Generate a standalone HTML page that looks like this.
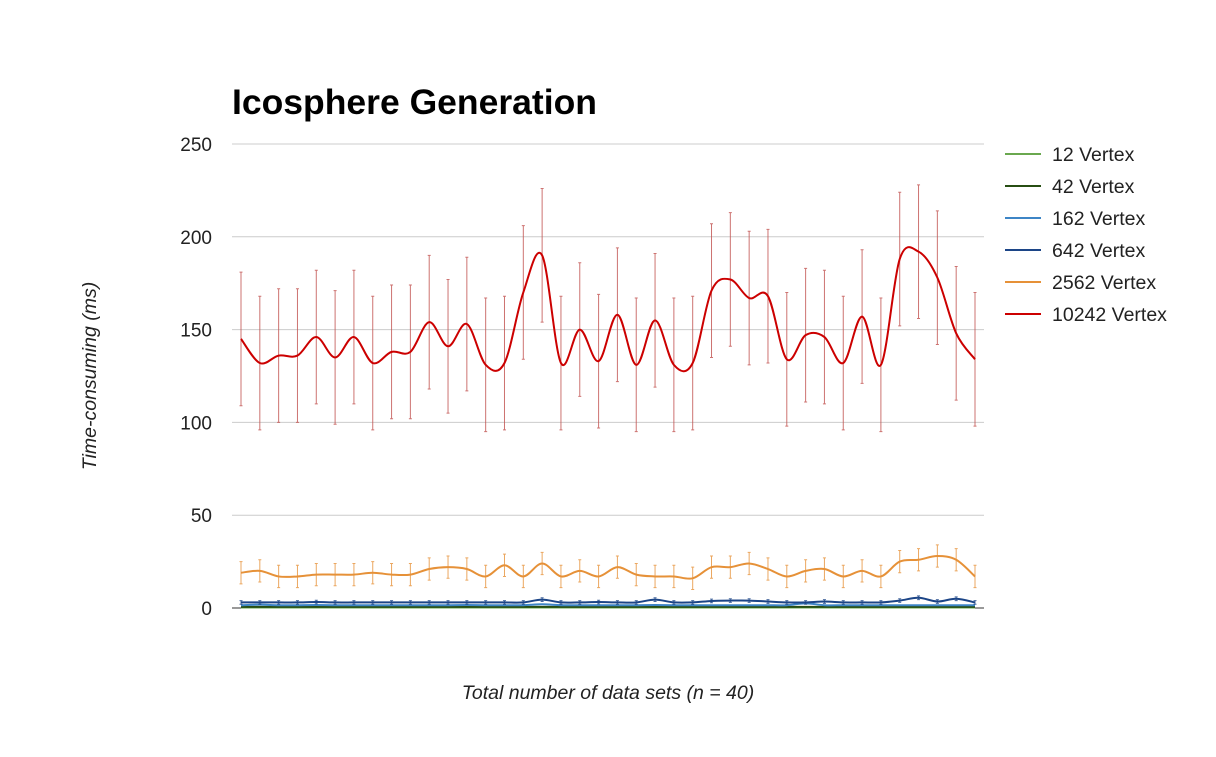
<!DOCTYPE html>
<html><head><meta charset="utf-8"><style>
body{margin:0;background:#fff;font-family:"Liberation Sans",Arial,sans-serif}
svg text{font-family:"Liberation Sans",Arial,sans-serif}
</style></head><body>
<svg id="c" width="1216" height="752">
<text x="232" y="114" font-size="35.5" font-weight="bold" fill="#000">Icosphere Generation</text>
<text transform="translate(96,376) rotate(-90)" text-anchor="middle" font-size="19.5" font-style="italic" fill="#222">Time-consuming (ms)</text>
<text x="608" y="699" text-anchor="middle" font-size="19.5" font-style="italic" fill="#222">Total number of data sets (n = 40)</text>
<g id="grid"></g><g id="marks"></g><g id="legend"></g>
</svg>
<script>
const yTicks=[0,50,100,150,200,250];
const seriesNames=["12 Vertex","42 Vertex","162 Vertex","642 Vertex","2562 Vertex","10242 Vertex"];
const colors=["#6aa84f","#274e13","#3d85c6","#1c4587","#e69138","#cc0000"];
const s12=[0.3,0.3,0.3,0.3,0.3,0.3,0.3,0.3,0.3,0.3,0.3,0.3,0.3,0.3,0.3,0.3,0.3,0.3,0.3,0.3,0.3,0.3,0.3,0.3,0.3,0.3,0.3,0.3,0.3,0.3,0.3,0.3,0.3,0.3,0.3,0.3,0.3,0.3,0.3,0.3];
const s42=[0.6,0.6,0.6,0.6,0.6,0.6,0.6,0.6,0.6,0.6,0.6,0.6,0.6,0.6,0.6,0.6,0.6,0.6,0.6,0.6,0.6,0.6,0.6,0.6,0.6,0.6,0.6,0.6,0.6,0.6,0.6,0.6,0.6,0.6,0.6,0.6,0.6,0.6,0.6,0.6];
const s162=[1.5,1.8,1.5,1.5,1.6,1.5,1.5,1.5,1.5,1.5,1.5,1.5,1.6,1.5,1.5,1.5,2,1.5,1.5,1.5,1.5,1.5,1.6,1.5,1.5,1.5,1.5,1.5,1.5,1.5,2.5,1.5,1.5,1.5,1.5,1.5,1.5,1.5,1.5,1.5];
const s642=[3,3,3,3,3.2,3,3,3,3,3,3,3,3,3,3,3,4.5,3,3,3.2,3,3,4.5,3,3,3.8,4,4,3.5,3,3,3.5,3,3,3,4,5.5,3.5,5,3];
const s2562=[19,20,17,17,18,18,18,19,18,18,21,22,21,17,23,17,24,17,20,17,22,18,17,17,16,22,22,24,21,17,20,21,17,20,17,25,26,28,26,17];
const s10242=[145,132,136,136,146,135,146,132,138,138,154,141,153,131,132,170,190,132,150,133,158,131,155,131,132,171,177,167,168,134,147,146,132,157,131,188,192,178,148,134];
const e2562=[6,6,6,6,6,6,6,6,6,6,6,6,6,6,6,6,6,6,6,6,6,6,6,6,6,6,6,6,6,6,6,6,6,6,6,6,6,6,6,6];
const e642=[1,1,1,1,1,1,1,1,1,1,1,1,1,1,1,1,1,1,1,1,1,1,1,1,1,1,1,1,1,1,1,1,1,1,1,1,1,1,1,1];
const e10242=[36,36,36,36,36,36,36,36,36,36,36,36,36,36,36,36,36,36,36,36,36,36,36,36,36,36,36,36,36,36,36,36,36,36,36,36,36,36,36,36];
const allSeries=[s12,s42,s162,s642,s2562,s10242];
const allErr=[null,null,null,e642,e2562,e10242];
const NS="http://www.w3.org/2000/svg";
const X0=241,X1=975,Y0=608,Y1=144,YMAX=250;
const xs=i=>X0+i*(X1-X0)/(s10242.length-1);
const ys=v=>Y0-v*(Y0-Y1)/YMAX;
function mk(t,a,p){const e=document.createElementNS(NS,t);for(const k in a)e.setAttribute(k,a[k]);p.appendChild(e);return e;}
const grid=document.getElementById('grid');
yTicks.forEach(t=>{
 const l=mk('line',{x1:232,x2:984,y1:ys(t),y2:ys(t),stroke:t===0?'#333':'#ccc','stroke-width':1},grid);
 
 
 const tx=mk('text',{x:212,y:ys(t)+7,'text-anchor':'end','font-size':19,fill:'#222'},grid);
 tx.textContent=t;
 
 
});
const marks=document.getElementById('marks');
function smooth(pts){let d='M'+pts[0][0]+','+pts[0][1];
 for(let i=0;i<pts.length-1;i++){const p0=pts[i-1]||pts[i],p1=pts[i],p2=pts[i+1],p3=pts[i+2]||p2;
 const c1=[p1[0]+(p2[0]-p0[0])/6,p1[1]+(p2[1]-p0[1])/6],c2=[p2[0]-(p3[0]-p1[0])/6,p2[1]-(p3[1]-p1[1])/6];
 d+=`C${c1[0]},${c1[1]} ${c2[0]},${c2[1]} ${p2[0]},${p2[1]}`;}return d;}
allSeries.forEach((s,k)=>{
 const g=mk('g',{},marks);
 
 
 const err=allErr[k];
 const ec=k===5?'#c0504d':k===4?'#e69138':'#1c4587';
 if(err) s.forEach((v,i)=>{
  const x=xs(i),a=ys(v+err[i]),b=ys(Math.max(0,v-err[i]));
  const el=mk('path',{d:`M${x},${a}V${b}M${x-1.5},${a}H${x+1.5}M${x-1.5},${b}H${x+1.5}`,stroke:ec,'stroke-width':1,fill:'none',opacity:0.8},g);
  
  
 });
 const p=mk('path',{d:smooth(s.map((v,i)=>[xs(i),ys(v)])),stroke:colors[k],'stroke-width':2,fill:'none'},g);
 
 
});
const lg=document.getElementById('legend');
seriesNames.forEach((n,k)=>{
 const y=154+k*32;
 const g=mk('g',{},lg);
 
 
 mk('line',{x1:1005,x2:1041,y1:y,y2:y,stroke:colors[k],'stroke-width':2},g);
 const t=mk('text',{x:1052,y:y+7,'font-size':19.5,fill:'#222'},g);t.textContent=n;
});
</script>
</body></html>
